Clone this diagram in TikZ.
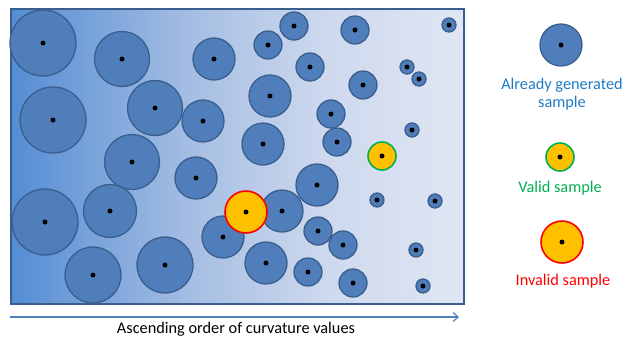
\documentclass[tikz,border=0pt]{standalone}
\usepackage{fontspec}
\setmainfont{Carlito}
\usetikzlibrary{arrows.meta}
\definecolor{sfill}{HTML}{4F7EBA}
\definecolor{sdraw}{HTML}{3A5F8E}
\definecolor{bgA}{HTML}{548DD4}
\definecolor{bgB}{HTML}{A6BEE3}
\definecolor{bgC}{HTML}{CED9EE}
\definecolor{bgD}{HTML}{E0E6F3}
\definecolor{gold}{HTML}{FFC000}
\definecolor{vgreen}{HTML}{00B050}
\definecolor{lblue}{HTML}{1F7BC6}
\definecolor{arrowc}{HTML}{4F81BD}
\pgfdeclarehorizontalshading{bgshade}{100bp}{color(0bp)=(bgA); color(25bp)=(bgA); color(45bp)=(bgB); color(60bp)=(bgC); color(75bp)=(bgD); color(100bp)=(bgD)}
\tikzset{
  samp/.style={circle, draw=sdraw, line width=1.3pt, fill=sfill, inner sep=0pt, minimum size=#1},
  validc/.style={circle, draw=vgreen, line width=1.6pt, fill=gold, inner sep=0pt, minimum size=#1},
  invalidc/.style={circle, draw=red, line width=1.6pt, fill=gold, inner sep=0pt, minimum size=#1},
  dotc/.style={circle, fill=black, inner sep=0pt, minimum size=5pt},
  lbl/.style={font=\fontsize{16.3}{18}\selectfont, align=center, inner sep=0pt}
}
\newcommand{\smp}[4]{\node[samp=#4] (#1) at (#2,#3) {}; \node[dotc] at (#1.center) {};}
\begin{document}
\begin{tikzpicture}[x=1pt,y=-1pt]
\useasboundingbox (0,0) rectangle (622,338);
\node[draw=sdraw, line width=1.5pt, shading=bgshade, minimum width=453pt, minimum height=295pt, inner sep=0pt, anchor=north west] (box) at (10,8) {};
% large
\smp{a1}{43}{43}{66pt}
\smp{a2}{53}{120}{66pt}
\smp{a3}{45}{222}{66pt}
% medium-large
\smp{b1}{122}{59}{55pt}
\smp{b2}{155}{108}{55pt}
\smp{b3}{132}{162}{55pt}
\smp{b4}{110}{211}{53pt}
\smp{b5}{93}{275}{56pt}
\smp{b6}{165}{265}{56pt}
% medium
\smp{c1}{214}{59}{42pt}
\smp{c2}{203}{121}{42pt}
\smp{c3}{196}{178}{42pt}
\smp{c4}{223}{237}{42pt}
\smp{c5}{270}{96}{42pt}
\smp{c6}{263}{144}{42pt}
\smp{c7}{317}{185}{42pt}
\smp{c8}{282}{211}{42pt}
\smp{c9}{266}{263}{42pt}
% small
\smp{d1}{294}{26}{28pt}
\smp{d2}{268}{45}{28pt}
\smp{d3}{355}{30}{28pt}
\smp{d4}{310}{67}{28pt}
\smp{d5}{363}{85}{28pt}
\smp{d6}{331}{114}{28pt}
\smp{d7}{337}{142}{28pt}
\smp{d8}{318}{231}{28pt}
\smp{d9}{343}{245}{28pt}
\smp{d10}{308}{272}{28pt}
\smp{d11}{353}{283}{28pt}
% tiny
\smp{e1}{449}{25}{14pt}
\smp{e2}{407}{67}{14pt}
\smp{e3}{419}{79}{14pt}
\smp{e4}{412}{130}{14pt}
\smp{e5}{377}{200}{14pt}
\smp{e6}{435}{201}{14pt}
\smp{e7}{416}{250}{14pt}
\smp{e8}{423}{286}{14pt}
% valid / invalid
\node[validc=28pt] (val) at (382,156) {}; \node[dotc] at (val.center) {};
\node[invalidc=42pt] (inv) at (246,212) {}; \node[dotc] at (inv.center) {};
% axis arrow
\coordinate (ax0) at (10,317);
\coordinate (ax1) at (459,317);
\draw[arrowc, line width=1.2pt, -{Straight Barb[length=5pt,width=9pt]}] (ax0) -- (ax1);
\node[lbl] (axl) at (236,329) {Ascending order of curvature values};
% legend
\node[samp=42pt] (lg1) at (561,45) {}; \node[dotc] at (lg1.center) {};
\node[lbl, text=lblue] (lt1) at (562,94) {Already generated\\sample};
\node[validc=28pt] (lg2) at (560,157) {}; \node[dotc] at (lg2.center) {};
\node[lbl, text=vgreen] (lt2) at (560,188) {Valid sample};
\node[invalidc=42pt] (lg3) at (562,242) {}; \node[dotc] at (lg3.center) {};
\node[lbl, text=red] (lt3) at (563,281) {Invalid sample};
\end{tikzpicture}
\end{document}
